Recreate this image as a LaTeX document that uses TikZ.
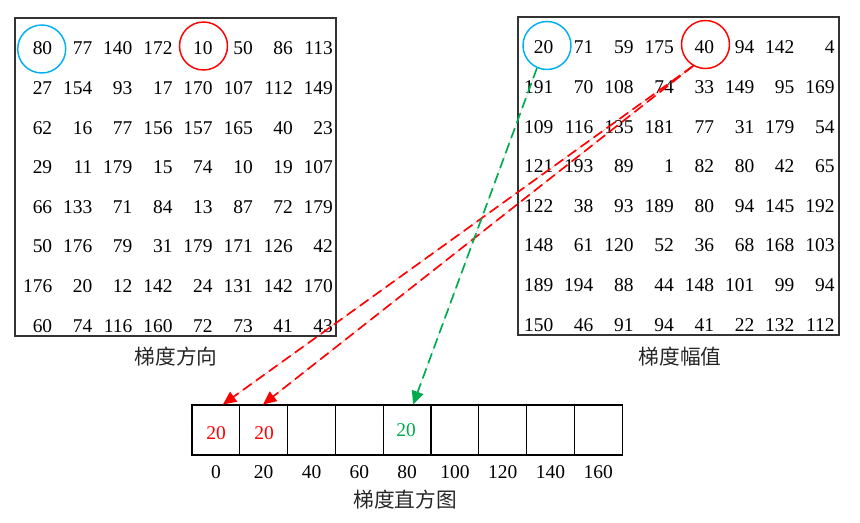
\documentclass[tikz,border=0pt]{standalone}
\usepackage{fontspec}
\setmainfont{Liberation Serif}
\newfontfamily\cjk{Noto Sans CJK SC}
\usetikzlibrary{arrows.meta}
\definecolor{cyanc}{RGB}{0,176,240}
\definecolor{greenc}{RGB}{0,170,80}
\definecolor{redc}{RGB}{255,0,0}
\begin{document}
\begin{tikzpicture}[x=0.75pt,y=-0.75pt,
  num/.style={font=\fontsize{14.6}{16}\selectfont, inner sep=0pt, anchor=east},
  circ/.style={circle, line width=1.1pt, minimum size=36pt, inner sep=0pt},
  gridbox/.style={draw=black!80, line width=1.1pt},
  cell/.style={draw, line width=0.8pt, minimum width=35.85pt, minimum height=37.5pt, inner sep=0pt},
  lab/.style={font=\fontsize{14.6}{16}\selectfont, inner sep=0pt},
  captxt/.style={font=\cjk\fontsize{15.5}{17}\selectfont, inner sep=0pt, text=black!85},
  darr/.style={line width=1.25pt, dash pattern=on 8pt off 4pt, -{Triangle[length=10pt,width=9pt]}}]
\useasboundingbox (0,0) rectangle (860,522);
% left grid
\node[gridbox, minimum width=240.75pt, minimum height=238.5pt, inner sep=0pt] (boxL) at (175.5,177) {};
\foreach \row [count=\r] in {{80,77,140,172,10,50,86,113},{27,154,93,17,170,107,112,149},{62,16,77,156,157,165,40,23},{29,11,179,15,74,10,19,107},{66,133,71,84,13,87,72,179},{50,176,79,31,179,171,126,42},{176,20,12,142,24,131,142,170},{60,74,116,160,72,73,41,43}}{
  \foreach \v [count=\c] in \row {
    \node[num] (L-\r-\c) at ({52.5+40.1*(\c-1)},{48.5+39.6*(\r-1)}) {\v};
  }
}
% right grid
\node[gridbox, minimum width=240.75pt, minimum height=238.5pt, inner sep=0pt] (boxR) at (678.5,176) {};
\foreach \row [count=\r] in {{20,71,59,175,40,94,142,4},{191,70,108,74,33,149,95,169},{109,116,135,181,77,31,179,54},{121,193,89,1,82,80,42,65},{122,38,93,189,80,94,145,192},{148,61,120,52,36,68,168,103},{189,194,88,44,148,101,99,94},{150,46,91,94,41,22,132,112}}{
  \foreach \v [count=\c] in \row {
    \node[num] (R-\r-\c) at ({553.5+40.2*(\c-1)},{47.5+39.6*(\r-1)}) {\v};
  }
}
% circles
\node[circ, draw=cyanc] (cL1) at (41.7,49) {};
\node[circ, draw=redc] (cL2) at (203.5,46) {};
\node[circ, draw=cyanc] (cR1) at (547,45.5) {};
\node[circ, draw=redc] (cR2) at (705.5,44.5) {};
% captions
\node[captxt] (capL) at (176,357) {梯度方向};
\node[captxt] (capR) at (680,357) {梯度幅值};
% histogram
\foreach \lab [count=\i from 0] in {0,20,40,60,80,100,120,140,160}{
  \node[cell] (h\i) at ({192+47.8*\i+23.9},430) {};
  \node[lab] (hl\i) at ({192+47.8*\i+23.9},472) {\lab};
}
\node[lab, text=redc] (v0) at (216,433) {20};
\node[lab, text=redc] (v1) at (264,433) {20};
\node[lab, text=greenc] (v4) at (406,430) {20};
\node[captxt] (capH) at (405,500) {梯度直方图};
% arrows
\draw[darr, draw=redc, fill=redc] (cR2.240) -- ([xshift=5.25pt]h0.north);
\draw[darr, draw=redc, fill=redc] (cR2.240) -- ([xshift=-0.5pt]h1.north);
\draw[darr, draw=greenc, fill=greenc] (cR1.246) -- ([xshift=4.5pt]h4.north);
\end{tikzpicture}
\end{document}
